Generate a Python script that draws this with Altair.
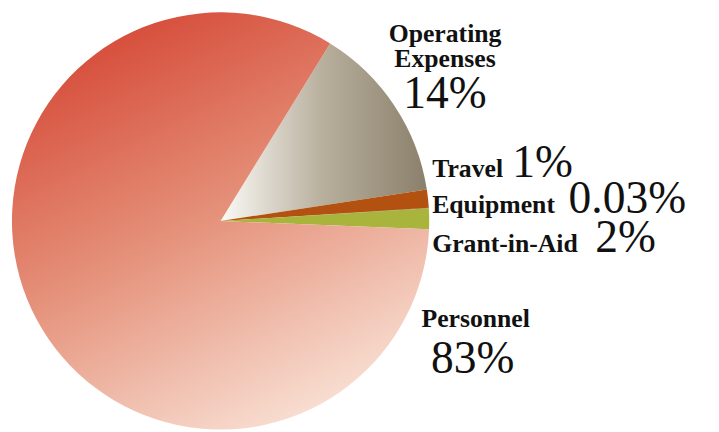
import altair as alt
import pandas as pd

categories = ["Operating Expenses", "Travel", "Equipment", "Grant-in-Aid", "Personnel"]
shares = [13.8, 1.4, 0.03, 1.6, 83.2]
name_lines = [["Operating", "Expenses"], ["Travel"], ["Equipment"], ["Grant-in-Aid"], ["Personnel"]]
pct_labels = ["14%", "1%", "0.03%", "2%", "83%"]

df = pd.DataFrame({"cat": categories, "share": shares, "idx": list(range(len(categories)))})

start = 0.553
theta_scale = alt.Scale(range=[start, start + 2 * 3.141592653589793])

fills = {
    "Operating Expenses": {"gradient": "linear", "x1": 0, "y1": 0, "x2": 1, "y2": 0,
                           "stops": [{"offset": 0, "color": "#fbfaf6"},
                                     {"offset": 0.5, "color": "#b7ae9c"},
                                     {"offset": 1, "color": "#8a806b"}]},
    "Travel": "#b35210",
    "Equipment": "#8c3a10",
    "Grant-in-Aid": "#a8b43c",
    "Personnel": {"gradient": "linear", "x1": 0.2, "y1": 0, "x2": 0.7, "y2": 1,
                  "stops": [{"offset": 0, "color": "#d44533"},
                            {"offset": 0.5, "color": "#e5917a"},
                            {"offset": 1, "color": "#f9e2d6"}]},
}

cx, cy, r = 215, 213, 211
FONT = "Liberation Serif, Times New Roman, Times, serif"

layers = []
for c in categories:
    layers.append(
        alt.Chart(df).mark_arc(fill=fills[c], strokeWidth=0).encode(
            theta=alt.Theta("share:Q", stack=True, scale=theta_scale),
            order=alt.Order("idx:Q"),
            opacity=alt.condition(alt.datum.cat == c, alt.value(1), alt.value(0)),
            x=alt.value(cx), y=alt.value(cy), radius=alt.value(r),
        )
    )

def txt(s, x, y, size, bold, align):
    return alt.Chart(df).transform_filter(alt.datum.idx == 0).mark_text(
        text=s, font=FONT, fontSize=size,
        fontWeight="bold" if bold else "normal", align=align,
        baseline="alphabetic", color="#111111",
    ).encode(x=alt.value(x), y=alt.value(y))

NS, PS = 26, 46
layers += [
    txt(name_lines[0][0], 442, 32, NS, True, "center"),
    txt(name_lines[0][1], 442, 57, NS, True, "center"),
    txt(pct_labels[0], 442, 99, PS, False, "center"),
    txt(name_lines[1][0], 429, 169, NS, True, "left"),
    txt(pct_labels[1], 510, 169, PS, False, "left"),
    txt(name_lines[2][0], 429, 205, NS, True, "left"),
    txt(pct_labels[2], 567, 205, PS, False, "left"),
    txt(name_lines[3][0], 429, 244, NS, True, "left"),
    txt(pct_labels[3], 594, 244, PS, False, "left"),
    txt(name_lines[4][0], 473, 320, NS, True, "center"),
    txt(pct_labels[4], 470, 367, PS, False, "center"),
]

chart = alt.layer(*layers).properties(
    width=711, height=424, padding=0, autosize="none"
).configure_view(stroke=None)

chart.save("out.html", embed_options={"renderer": "svg", "actions": False})
